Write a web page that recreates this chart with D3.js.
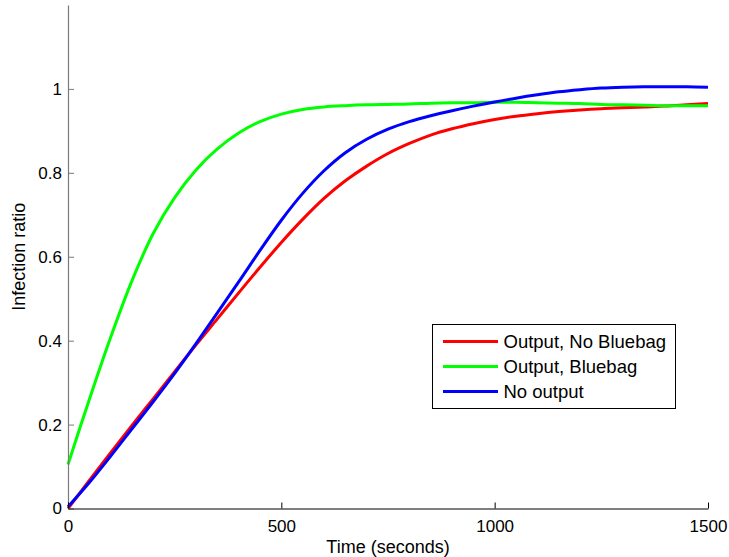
<!DOCTYPE html>
<html>
<head>
<meta charset="utf-8">
<script src="https://cdn.jsdelivr.net/npm/d3@7"></script>
<style>
  html, body { margin: 0; padding: 0; background: #fff; }
  svg { display: block; font-family: "Liberation Sans", Arial, Helvetica, sans-serif; }
</style>
</head>
<body>
<svg id="chart" width="729" height="557"></svg>
<script>
// ---- data ----
const time = [0, 50, 100, 150, 200, 250, 300, 350, 400, 450, 500, 550, 600, 650, 700, 750,
              800, 850, 900, 950, 1000, 1050, 1100, 1150, 1200, 1250, 1300, 1350, 1400, 1450, 1500];
const outputNoBluebag = [0.0, 0.067, 0.133, 0.198, 0.262, 0.326, 0.390, 0.452, 0.514, 0.575, 0.634,
                         0.689, 0.739, 0.781, 0.816, 0.846, 0.870, 0.890, 0.905, 0.917, 0.927,
                         0.935, 0.941, 0.946, 0.950, 0.953, 0.955, 0.957, 0.959, 0.962, 0.965];
const outputBluebag = [0.105, 0.260, 0.408, 0.543, 0.656, 0.741, 0.807, 0.857, 0.895, 0.922, 0.940,
                       0.951, 0.957, 0.960, 0.962, 0.963, 0.964, 0.966, 0.967, 0.967, 0.968,
                       0.968, 0.967, 0.966, 0.965, 0.963, 0.962, 0.961, 0.960, 0.960, 0.960];
const noOutput = [0.004, 0.062, 0.125, 0.190, 0.255, 0.322, 0.393, 0.466, 0.540, 0.615, 0.687,
                  0.751, 0.805, 0.848, 0.880, 0.904, 0.922, 0.936, 0.948, 0.959, 0.969,
                  0.978, 0.986, 0.993, 0.998, 1.002, 1.004, 1.005, 1.005, 1.005, 1.004];
const seriesNames = ["Output, No Bluebag", "Output, Bluebag", "No output"];
const seriesColors = ["#ff0000", "#00ff00", "#0000ff"];
const xTicks = [0, 500, 1000, 1500];
const yTicks = [0, 0.2, 0.4, 0.6, 0.8, 1];
const xLabel = "Time (seconds)";
const yLabel = "Infection ratio";

// ---- layout ----
const svg = d3.select("#chart");
const mLeft = 68, mRight = 708, mTop = 5, mBottom = 508.5;
const x = d3.scaleLinear().domain([0, 1500]).range([mLeft, mRight]);
const y = d3.scaleLinear().domain([0, 1.2]).range([mBottom, mTop]);

const allSeries = [outputNoBluebag, outputBluebag, noOutput];

// curves
const line = d3.line()
  .x((d, i) => x(time[i]))
  .y(d => y(d))
  .curve(d3.curveCatmullRom.alpha(0.5));

svg.append("g").selectAll("path")
  .data(allSeries)
  .join("path")
  .attr("d", d => line(d))
  .attr("fill", "none")
  .attr("stroke", (d, i) => seriesColors[i])
  .attr("stroke-width", 3)
  .attr("stroke-linejoin", "round");

// y axis (grey line, inward ticks)
const yAxis = d3.axisLeft(y).tickValues(yTicks).tickSizeInner(-6).tickSizeOuter(0)
  .tickPadding(6).tickFormat(d3.format("~g"));
const gy = svg.append("g").attr("transform", `translate(${mLeft},0)`).call(yAxis);
gy.select(".domain").attr("stroke", "#7a7a7a").attr("stroke-width", 1.2);
gy.selectAll(".tick line").attr("stroke", "#7a7a7a");
gy.selectAll(".tick text").attr("font-size", 17).attr("fill", "#000")
  .attr("font-family", "Liberation Sans, Arial, sans-serif");

// x axis (black line, inward ticks)
const xAxis = d3.axisBottom(x).tickValues(xTicks).tickSizeInner(-6).tickSizeOuter(0)
  .tickPadding(11).tickFormat(d3.format("d"));
const gx = svg.append("g").attr("transform", `translate(0,${mBottom})`).call(xAxis);
gx.select(".domain").attr("stroke", "#000").attr("stroke-width", 1.2);
gx.selectAll(".tick line").attr("stroke", "#000");
gx.selectAll(".tick text").attr("font-size", 17).attr("fill", "#000")
  .attr("font-family", "Liberation Sans, Arial, sans-serif");

// axis labels
svg.append("text")
  .attr("x", (mLeft + mRight) / 2).attr("y", 553)
  .attr("text-anchor", "middle").attr("font-size", 18).attr("fill", "#000")
  .text(xLabel);
svg.append("text")
  .attr("transform", `translate(25,${(mTop + mBottom) / 2}) rotate(-90)`)
  .attr("text-anchor", "middle").attr("font-size", 18).attr("fill", "#000")
  .text(yLabel);

// legend
const lg = svg.append("g");
lg.append("rect").attr("x", 432.5).attr("y", 324.5).attr("width", 243).attr("height", 84)
  .attr("fill", "#fff").attr("stroke", "#000").attr("stroke-width", 1);
const rowY = [341.5, 366.5, 391.5];
seriesNames.forEach((name, i) => {
  lg.append("line").attr("x1", 443).attr("x2", 498).attr("y1", rowY[i]).attr("y2", rowY[i])
    .attr("stroke", seriesColors[i]).attr("stroke-width", 3);
  lg.append("text").attr("x", 503.5).attr("y", rowY[i] + 6.8)
    .attr("font-size", 18.5).attr("fill", "#000").text(name);
});
</script>
</body>
</html>
